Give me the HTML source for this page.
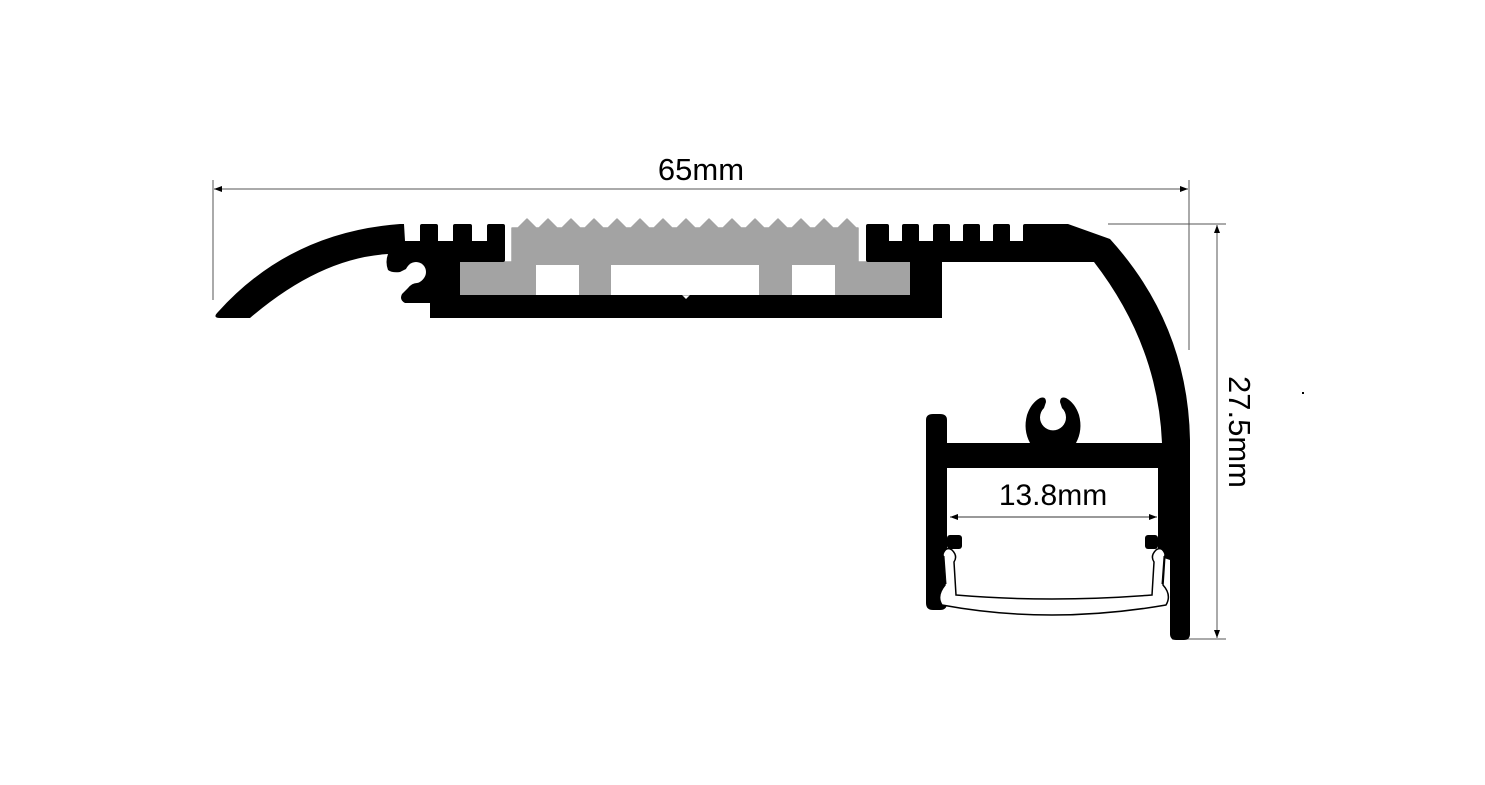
<!DOCTYPE html>
<html><head><meta charset="utf-8"><style>
html,body{margin:0;padding:0;background:#fff;}
svg{display:block;}
text{font-family:"Liberation Sans",Arial,sans-serif;fill:#000;}
</style></head><body>
<svg width="1485" height="785" viewBox="0 0 1485 785" xmlns="http://www.w3.org/2000/svg">
<defs>
<marker id="ar" markerWidth="8" markerHeight="6" refX="8" refY="3" orient="auto" markerUnits="userSpaceOnUse"><path d="M0,0 L8,3 L0,6 z" fill="#000"/></marker>
<marker id="al" markerWidth="8" markerHeight="6" refX="0" refY="3" orient="auto" markerUnits="userSpaceOnUse"><path d="M8,0 L0,3 L8,6 z" fill="#000"/></marker>
</defs>

<line x1="213" y1="180" x2="213" y2="300" stroke="#555" stroke-width="1"/>
<line x1="1189" y1="180" x2="1189" y2="350" stroke="#555" stroke-width="1"/>
<line x1="214" y1="189" x2="1188" y2="189" stroke="#555" stroke-width="1" marker-start="url(#al)" marker-end="url(#ar)"/>
<text x="701" y="180" font-size="31" text-anchor="middle">65mm</text>

<line x1="1108" y1="224" x2="1226" y2="224" stroke="#555" stroke-width="1"/>
<line x1="1172" y1="639" x2="1226" y2="639" stroke="#555" stroke-width="1"/>
<line x1="1217" y1="225" x2="1217" y2="638" stroke="#555" stroke-width="1" marker-start="url(#al)" marker-end="url(#ar)"/>
<text x="0" y="0" font-size="31" text-anchor="middle" transform="translate(1229,432) rotate(90)">27.5mm</text>
<rect x="1302" y="392" width="2" height="2" fill="#000"/>

<!-- gray insert -->
<path fill="#a3a3a3" stroke="#a3a3a3" stroke-width="1.5" stroke-linejoin="round" d="M512,262 L512,228 L518,228 L527,219 L536,228 L539,228 L548,219 L557,228 L562,228 L571,219 L580,228 L585,228 L594,219 L603,228 L608,228 L617,219 L626,228 L631,228 L640,219 L649,228 L654,228 L663,219 L672,228 L677,228 L686,219 L695,228 L700,228 L709,219 L718,228 L723,228 L732,219 L741,228 L746,228 L755,219 L764,228 L769,228 L778,219 L787,228 L792,228 L801,219 L810,228 L815,228 L824,219 L833,228 L838,228 L847,219 L856,228 L858,228 L858,262 L910,262 L910,295 L460,295 L460,262 Z"/>
<rect x="536" y="265" width="43" height="30" fill="#fff"/>
<rect x="611" y="265" width="148" height="30" fill="#fff"/>
<rect x="792" y="265" width="43" height="30" fill="#fff"/>

<path fill="#000" d="M430,295 L682,295 L686,299 L690,295 L942,295 L942,318 L430,318 Z"/>

<path fill="#000" d="M218,312 Q290,232 400,224 L404,224 L405,241 L420,241 L420,226 Q420,224 422,224 L436,224 Q438,224 438,226 L438,241 L453,241 L453,226 Q453,224 455,224 L470,224 Q472,224 472,226 L472,241 L487,241 L487,226 Q487,224 489,224 L503,224 Q505,224 505,226 L505,260 Q505,262 503,262 L460,262 L460,295 L430,295 L430,303 L405,303 Q399,300 402,294 L408,288 Q412,283 417,283 A10,10 0 1,0 406,269 L400,272 Q392,273 388,270 Q385,262 388,254 Q320,258 250,318 L220,318 Q212,318 218,312 Z"/>
<circle cx="416" cy="272" r="10" fill="#fff"/>

<path fill="#000" d="M866,226 Q866,224 868,224 L887,224 Q889,224 889,226 L889,241 L902,241 L902,226 Q902,224 904,224 L917,224 Q919,224 919,226 L919,241 L933,241 L933,226 Q933,224 935,224 L948,224 Q950,224 950,226 L950,241 L963,241 L963,226 Q963,224 965,224 L978,224 Q980,224 980,226 L980,241 L993,241 L993,226 Q993,224 995,224 L1008,224 Q1010,224 1010,226 L1010,241 L1023,241 L1023,226 Q1023,224 1025,224 L1068,224 L1110,239 Q1188,325 1190,440 L1190,634 Q1190,640 1184,640 L1176,640 Q1170,640 1170,634 L1170,560 L1158,556 L1158,468 L947,468 L947,603 Q947,610 940,610 L933,610 Q926,610 926,603 L926,420 Q926,414 933,414 L940,414 Q947,414 947,420 L947,443 L1162,443 Q1158,345 1094,262 L942,262 L942,318 L912,318 Q910,318 910,316 L910,262 L868,262 Q866,262 866,260 Z"/>

<path fill="#000" d="M1030,443 Q1023,430 1027,415 Q1031,403 1040,398 Q1046,396 1046,402 L1044,408 A13,13 0 1,0 1062,408 L1060,402 Q1060,396 1066,398 Q1075,403 1079,415 Q1083,430 1076,443 Z"/>

<rect x="947" y="535" width="15" height="14" rx="3" fill="#000"/>
<rect x="1145" y="535" width="13" height="14" rx="3" fill="#000"/>

<path fill="#fff" stroke="#000" stroke-width="1.5" d="M943,554 Q946,546 952,550 Q958,556 954,562 L956,595 Q1050,603 1152,595 L1154,562 Q1150,556 1156,550 Q1162,546 1165,554 L1163,585 Q1172,595 1166,605 Q1050,625 942,605 Q936,596 945,585 Z"/>
<path fill="none" stroke="#000" stroke-width="1" d="M944,556 L946,584 M1164,556 L1162,584"/>

<line x1="950" y1="517" x2="1157" y2="517" stroke="#333" stroke-width="1" marker-start="url(#al)" marker-end="url(#ar)"/>
<text x="1053" y="505" font-size="30" text-anchor="middle">13.8mm</text>
</svg>
</body></html>
